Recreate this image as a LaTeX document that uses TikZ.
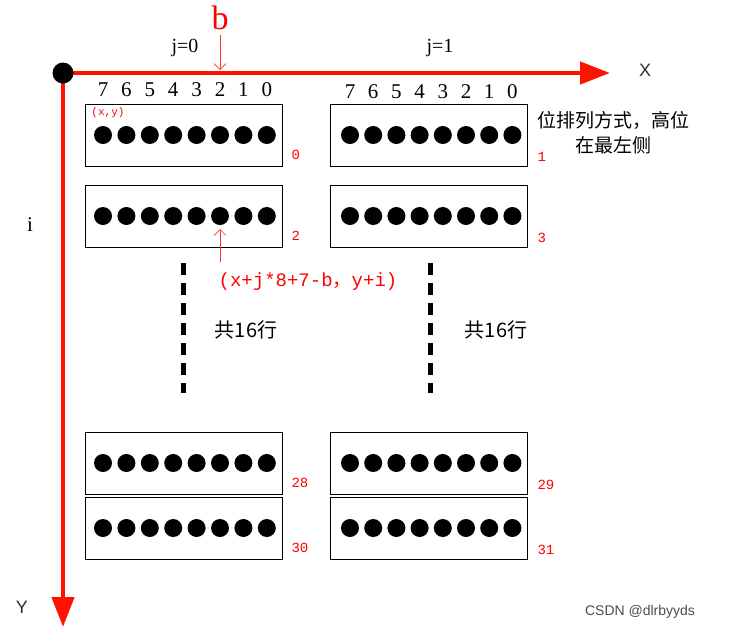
\documentclass[tikz,border=0pt]{standalone}
\usepackage{fontspec}
\setmainfont{Liberation Serif}
\newfontfamily\cjk{Noto Sans CJK SC}
\newfontfamily\mono{Liberation Mono}
\newfontfamily\sans{Liberation Sans}
\usetikzlibrary{arrows.meta}
\begin{document}
\begin{tikzpicture}[x=1pt,y=-1pt,
  axis/.style={draw=red!85!orange,line width=4.5pt,-{Triangle[length=30pt,width=22pt]}},
  rowbox/.style={draw,line width=1pt,minimum width=197pt,minimum height=62pt,inner sep=0pt},
  bitdot/.style={circle,fill=black,minimum size=18pt,inner sep=0pt},
  rnum/.style={text=red,font=\mono\fontsize{14}{14}\selectfont},
  thinred/.style={draw=red!80,line width=0.7pt,-{Straight Barb[length=6pt]}}]
\useasboundingbox (0,0) rectangle (739,633);
\fill[white] (0,0) rectangle (739,633);
\coordinate (o) at (63,73);
\coordinate (xe) at (610,73);
\coordinate (ye) at (63,627);
\draw[axis] (o) -- (xe);
\draw[axis] (o) -- (ye);
\node[circle,fill=black,minimum size=21pt,inner sep=0pt] (od) at (o) {};
\node[font=\sans\fontsize{18}{18}\selectfont,text=black!80] (xl) at (645,70) {X};
\node[font=\sans\fontsize{18}{18}\selectfont,text=black!80] (yl) at (22,607) {Y};
\node[font=\fontsize{21}{21}\selectfont] (il) at (30,225) {i};
\node[font=\fontsize{34}{34}\selectfont,text=red] (b) at (220,18) {b};
\coordinate (bt) at (220,35); \coordinate (bb) at (220,70);
\draw[thinred] (bt) -- (bb);
\node[font=\fontsize{20}{20}\selectfont] (j0) at (185,48) {j=0};
\node[font=\fontsize{20}{20}\selectfont] (j1) at (440,48) {j=1};
\foreach \k [count=\n from 0] in {7,6,5,4,3,2,1,0} {
  \node[font=\fontsize{21}{21}\selectfont] (dl\n) at (103+\n*23.4,90) {\k};
  \node[font=\fontsize{21}{21}\selectfont] (dr\n) at (350+\n*23.2,92) {\k};
}
\foreach \nm/\yy/\ln/\rn in {a/135/0/1,b/216/2/3,c/463/28/29,d/528/30/31} {
  \node[rowbox] (L\nm) at (183.5,\yy) {};
  \node[rowbox] (R\nm) at (428.5,\yy) {};
  \foreach \n in {0,...,7} {
    \node[bitdot] at (103+\n*23.4,\yy) {};
    \node[bitdot] at (350+\n*23.2,\yy) {};
  }
  \node[rnum,anchor=west] (nl\nm) at (288,\yy+20) {\ln};
  \node[rnum,anchor=west] (nr\nm) at (534,\yy+22) {\rn};
}
\node[rnum,font=\mono\fontsize{11}{11}\selectfont] (xy) at (108,113) {(x,y)};
\coordinate (ft) at (220,262); \coordinate (fb) at (220,229);
\draw[thinred] (ft) -- (fb);
\node[rnum,font=\mono\fontsize{19}{19}\selectfont] (form) at (308,282) {(x+j*8+7-b{\cjk，}y+i)};
\coordinate (v1a) at (183,263); \coordinate (v1b) at (183,393);
\coordinate (v2a) at (430,263); \coordinate (v2b) at (430,393);
\draw[line width=5pt,dash pattern=on 12pt off 8pt] (v1a) -- (v1b);
\draw[line width=5pt,dash pattern=on 12pt off 8pt] (v2a) -- (v2b);
\node[font=\cjk\fontsize{20}{20}\selectfont] (g1) at (246,330) {共16行};
\node[font=\cjk\fontsize{20}{20}\selectfont] (g2) at (496,330) {共16行};
\node[font=\cjk\fontsize{19}{25}\selectfont,align=center] (note) at (613,133) {位排列方式，高位\\在最左侧};
\node[font=\sans\fontsize{14}{14}\selectfont,text=black!70] (csdn) at (640,612) {CSDN @dlrbyyds};
\end{tikzpicture}
\end{document}
